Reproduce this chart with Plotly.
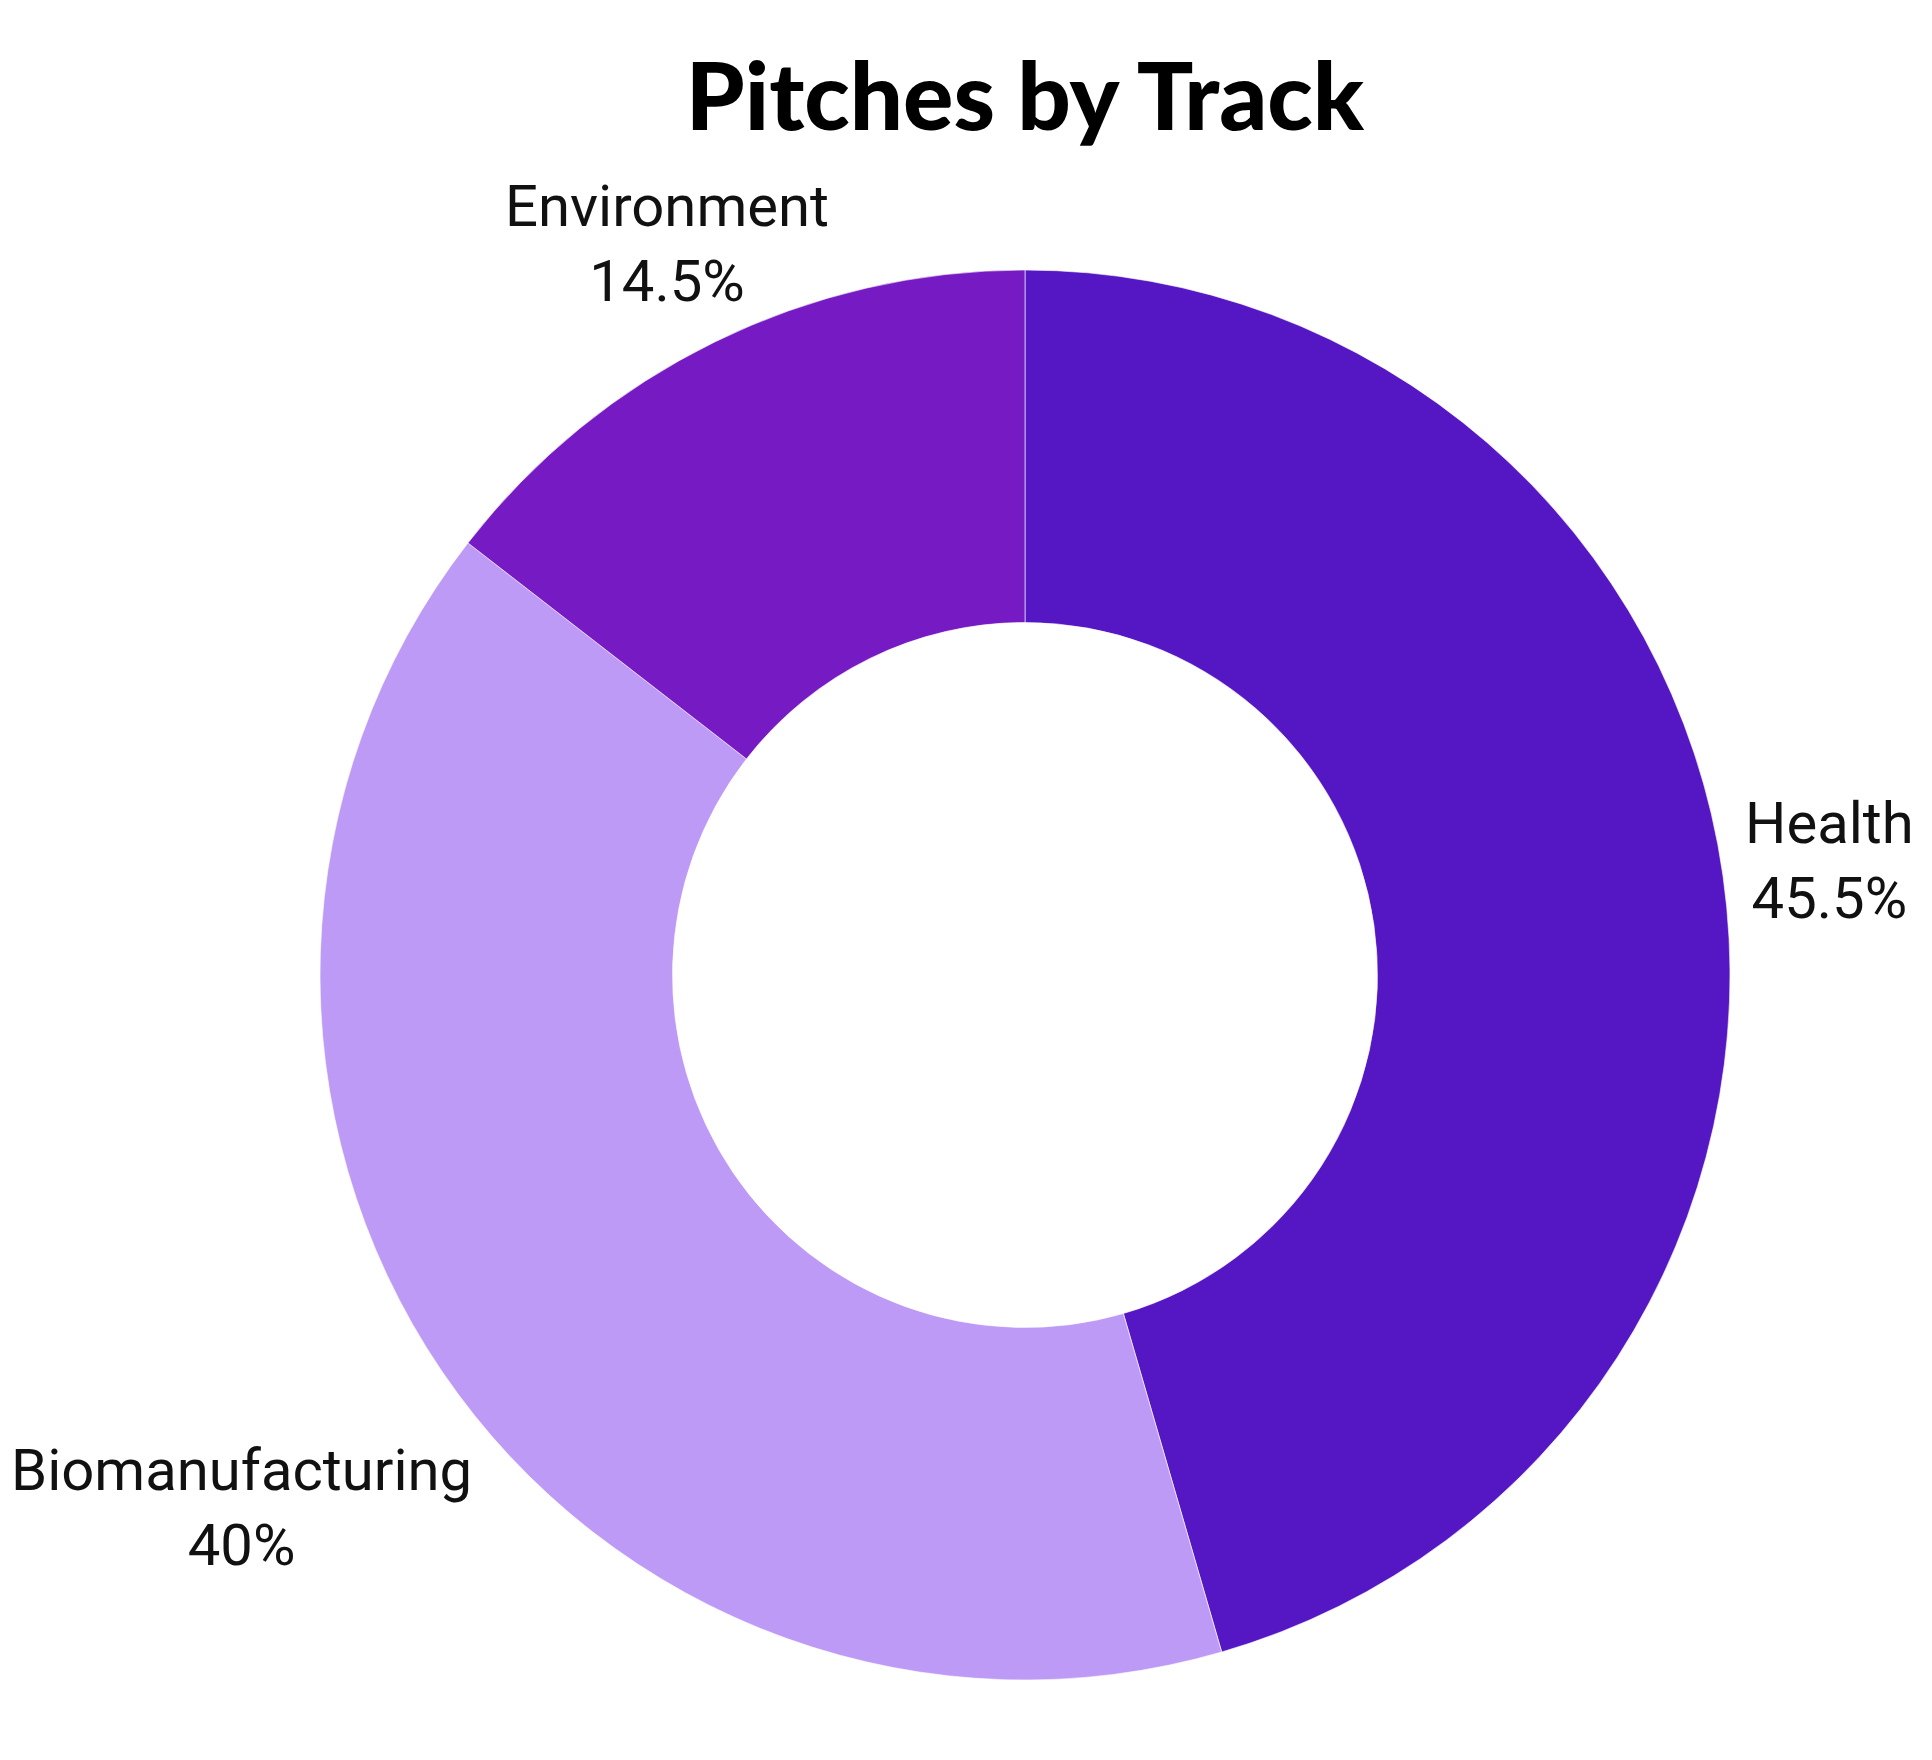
import math
import plotly.graph_objects as go

tracks = ["Health", "Biomanufacturing", "Environment"]
shares = [45.5, 40.0, 14.5]
colors = ["#5517C4", "#BE9AF7", "#761BC4"]
title_text = "Pitches by Track"

W, H = 1916, 1744
M = dict(l=312, r=194, t=262, b=72)
PW = W - M["l"] - M["r"]
PH = H - M["t"] - M["b"]
R = min(PW, PH) / 2

LABEL_SIZE = 58
LABEL_GAP = 1.006     # label box starts just outside the ring
CHAR_W = 0.58         # average glyph width, in em
HALF_H = 0.46         # half height of a two-line label, in em

fig = go.Figure(
    go.Pie(
        labels=tracks,
        values=shares,
        hole=0.5,
        sort=False,
        direction="clockwise",
        rotation=0,
        automargin=False,
        marker=dict(colors=colors, line=dict(color="rgba(255,255,255,0.6)", width=1)),
        textinfo="none",
        hoverinfo="label+percent",
        showlegend=False,
    )
)

# outside labels, placed along each slice's middle angle
total = sum(shares)
annotations = []
cum = 0.0
for name, v in zip(tracks, shares):
    mid = (cum + v / 2) / total * 2 * math.pi
    cum += v
    s, c = math.sin(mid), math.cos(mid)
    pct = v / total * 100
    pct_txt = (f"{pct:.1f}".rstrip("0").rstrip(".")) + "%"
    longest = max(len(name), len(pct_txt))
    half_w = longest * CHAR_W * LABEL_SIZE / 2
    half_h = HALF_H * LABEL_SIZE
    rho = LABEL_GAP * R + abs(s) * half_w + abs(c) * half_h
    annotations.append(
        dict(
            text=f"{name}<br>{pct_txt}",
            xref="paper",
            yref="paper",
            x=0.5 + rho * s / PW,
            y=0.5 + rho * c / PH,
            xanchor="center",
            yanchor="middle",
            align="center",
            showarrow=False,
            font=dict(family="Roboto, Arial, sans-serif", size=LABEL_SIZE, color="#111111"),
        )
    )

fig.update_layout(
    width=W,
    height=H,
    margin=M,
    paper_bgcolor="white",
    plot_bgcolor="white",
    annotations=annotations,
    title=dict(
        text=title_text,
        x=0.5,
        xref="paper",
        xanchor="center",
        y=1 - 89 / H,
        yref="container",
        yanchor="middle",
        font=dict(family="Lato, Roboto, Arial, sans-serif", size=94, color="#000000", weight=900),
    ),
)

fig.write_html("out.html")
